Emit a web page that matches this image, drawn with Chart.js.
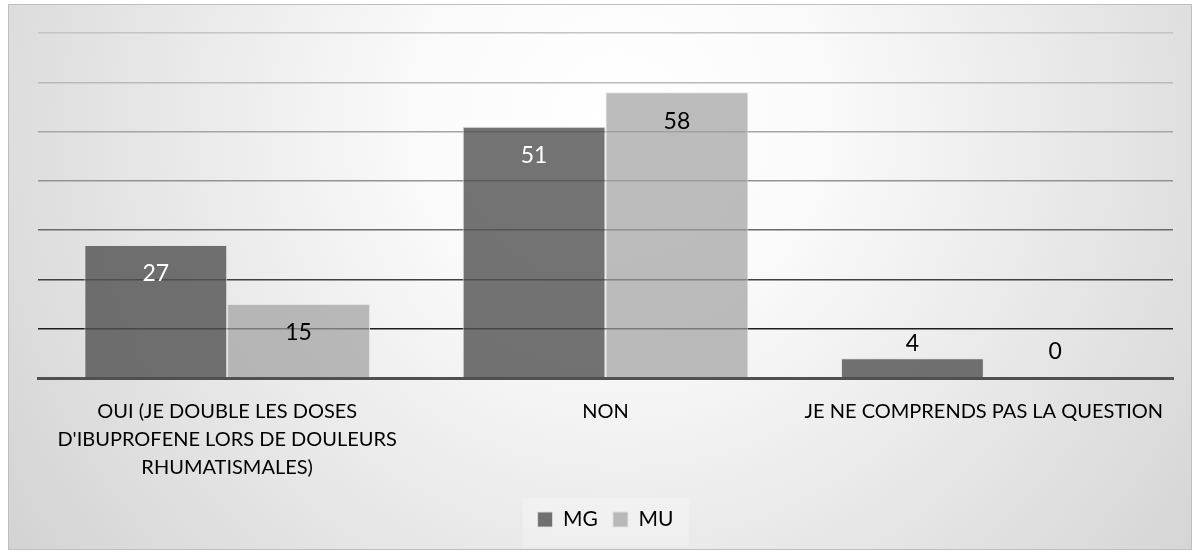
<!DOCTYPE html>
<html>
<head>
<meta charset="utf-8">
<script src="https://cdn.jsdelivr.net/npm/chart.js@4"></script>
<style>
    html, body { margin: 0; padding: 0; background: #fff; }
    #wrap { width: 1200px; height: 555px; }
</style>
</head>
<body>
<div id="wrap"><canvas id="chart" width="1200" height="555"></canvas></div>
<script>
const categories = [
    ['OUI (JE DOUBLE LES DOSES', "D'IBUPROFENE LORS DE DOULEURS", 'RHUMATISMALES)'],
    'NON',
    'JE NE COMPRENDS PAS LA QUESTION'
];
const mgValues = [27, 51, 4];
const muValues = [15, 58, 0];
const yTicks = [0, 10, 20, 30, 40, 50, 60, 70];

const FONT = 'Lato, "Open Sans", sans-serif';

// grid lines get darker towards the base
const gridColors = {
    0: '#505050', 10: '#1e1e1e', 20: '#404040', 30: '#6a6a6a',
    40: '#939393', 50: '#a6a6a6', 60: '#bababa', 70: '#c4c4c4'
};

const backgroundPlugin = {
    id: 'background',
    beforeDraw(chart) {
        const ctx = chart.ctx;
        const w = chart.width, h = chart.height;
        ctx.save();
        ctx.fillStyle = '#ffffff';
        ctx.fillRect(0, 0, w, h);
        const g = ctx.createRadialGradient(620, 120, 0, 620, 120, 760);
        g.addColorStop(0, '#ffffff');
        g.addColorStop(0.25, '#fbfbfb');
        g.addColorStop(1, '#d2d2d2');
        ctx.fillStyle = g;
        ctx.fillRect(8, 4, 1184, 546);
        ctx.strokeStyle = '#bfbfbf';
        ctx.lineWidth = 1;
        ctx.strokeRect(8.5, 4.5, 1183, 545);
        // lighter box behind the legend
        ctx.fillStyle = 'rgba(255,255,255,0.25)';
        ctx.fillRect(523, 498, 166, 49);
        ctx.restore();
    }
};

const valueLabels = {
    id: 'valueLabels',
    afterDatasetsDraw(chart) {
        const ctx = chart.ctx;
        ctx.save();
        ctx.font = '23px ' + FONT;
        ctx.textAlign = 'center';
        ctx.textBaseline = 'middle';
        chart.data.datasets.forEach((ds, di) => {
            const meta = chart.getDatasetMeta(di);
            meta.data.forEach((bar, i) => {
                const h = bar.base - bar.y;
                let y, color;
                if (h > 50) {
                    y = bar.y + 29;
                    color = di === 0 ? '#ffffff' : '#000000';
                } else {
                    y = Math.min(bar.y - 15, bar.base - 26);
                    color = '#000000';
                }
                ctx.fillStyle = color;
                ctx.fillText(String(ds.data[i]), bar.x, y);
            });
        });
        ctx.restore();
    }
};

new Chart(document.getElementById('chart'), {
    type: 'bar',
    data: {
        labels: categories,
        datasets: [
            {
                label: 'MG',
                data: mgValues,
                backgroundColor: 'rgba(80,80,80,0.8)',
                borderColor: 'rgba(225,225,225,0.9)',
                borderWidth: 1
            },
            {
                label: 'MU',
                data: muValues,
                backgroundColor: 'rgba(160,160,160,0.7)',
                borderColor: 'rgba(225,225,225,0.9)',
                borderWidth: 1
            }
        ]
    },
    options: {
        responsive: false,
        animation: false,
        devicePixelRatio: 1,
        layout: { padding: { left: 38, right: 27, top: 33, bottom: 15 } },
        datasets: { bar: { categoryPercentage: 0.755, barPercentage: 1 } },
        scales: {
            x: {
                grid: { display: false },
                border: { display: true, color: '#505050', width: 3 },
                ticks: {
                    color: '#000',
                    font: { family: FONT, size: 20, lineHeight: 1.4 },
                    padding: 12,
                    maxRotation: 0,
                    autoSkip: false
                }
            },
            y: {
                min: 0,
                max: 70,
                afterBuildTicks(scale) {
                    scale.ticks = yTicks.map(v => ({ value: v }));
                },
                afterFit(scale) { scale.width = 0; },
                ticks: { display: false },
                border: { display: false },
                grid: {
                    drawTicks: false,
                    lineWidth: 1.5,
                    color: c => gridColors[c.tick.value] || '#999'
                }
            }
        },
        plugins: {
            legend: {
                position: 'bottom',
                labels: {
                    color: '#000',
                    font: { family: FONT, size: 21 },
                    boxWidth: 15,
                    boxHeight: 15,
                    padding: 15
                }
            },
            tooltip: { enabled: false }
        }
    },
    plugins: [backgroundPlugin, valueLabels]
});
</script>
</body>
</html>
